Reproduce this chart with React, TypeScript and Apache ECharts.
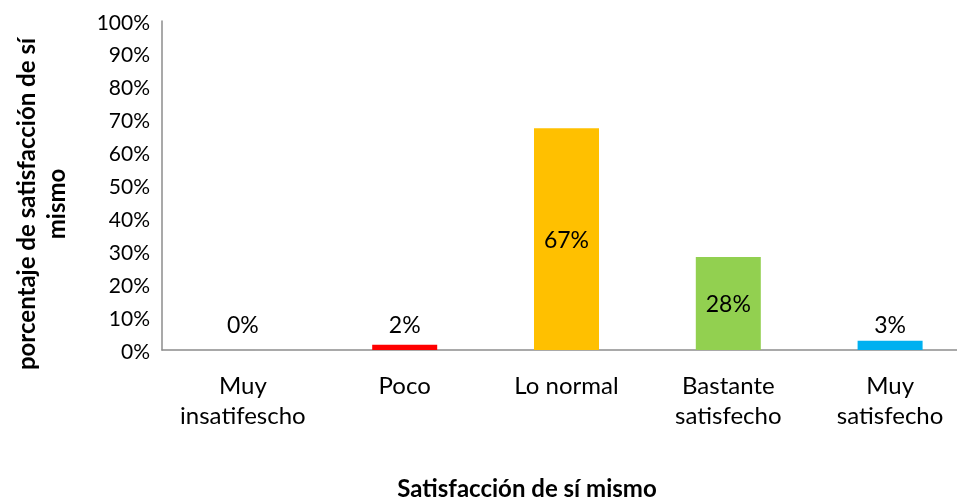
import React, { useEffect, useRef } from "react";
import * as echarts from "echarts";

const categories = ["Muy\ninsatifescho", "Poco", "Lo normal", "Bastante\nsatisfecho", "Muy\nsatisfecho"];
const values = [0, 1.6, 67.4, 28.3, 2.8];
const labels = ["0%", "2%", "67%", "28%", "3%"];
const colors = ["#A5A5A5", "#FF0000", "#FFC000", "#92D050", "#00B0F0"];
const yTitle = "porcentaje de satisfacción de sí\nmismo";
const xTitle = "Satisfacción de sí mismo";

export default function App() {
  const ref = useRef<HTMLDivElement>(null);
  useEffect(() => {
    if (!ref.current) return;
    const chart = echarts.init(ref.current, undefined, { renderer: "svg" });
    const font = "Lato";
    chart.setOption({
      animation: false,
      textStyle: { fontFamily: font },
      grid: { left: 162, right: 0, top: 21, bottom: 150, containLabel: false },
      xAxis: {
        type: "category",
        data: categories,
        axisLine: { show: true, lineStyle: { color: "#8C8C8C", width: 1.5 } },
        axisTick: { show: false },
        axisLabel: { color: "#000", fontSize: 24, lineHeight: 30, margin: 19, interval: 0, fontFamily: font },
      },
      yAxis: {
        type: "value",
        min: 0,
        max: 100,
        interval: 10,
        splitLine: { show: false },
        axisLine: { show: true, lineStyle: { color: "#8C8C8C", width: 1.5 } },
        axisTick: { show: false },
        axisLabel: { color: "#000", fontSize: 21, margin: 12, formatter: (v: number) => v + "%", fontFamily: font },
      },
      series: [
        {
          type: "bar",
          barWidth: 65,
          data: values.map((v, i) => ({
            value: v,
            itemStyle: { color: colors[i] },
            label: {
              show: true,
              position: v < 10 ? "insideBottom" : "inside",
              distance: 15,
              formatter: () => labels[i],
              color: "#000",
              fontSize: 23,
              fontFamily: font,
            },
          })),
        },
      ],
      graphic: [
        {
          type: "text",
          x: 40,
          y: 204,
          rotation: Math.PI / 2,
          style: {
            text: yTitle,
            font: `bold 24px ${font}`,
            fill: "#000",
            align: "center",
            verticalAlign: "middle",
            lineHeight: 30,
          },
        },
        {
          type: "text",
          x: 527,
          y: 487,
          style: {
            text: xTitle,
            font: `bold 24px ${font}`,
            fill: "#000",
            align: "center",
            verticalAlign: "middle",
          },
        },
      ],
    });
    return () => chart.dispose();
  }, []);
  return (
    <div style={{ position: "fixed", left: 0, top: 0, width: 957, height: 500, overflow: "hidden" }}>
      <div ref={ref} style={{ width: 971, height: 500 }} />
    </div>
  );
}
